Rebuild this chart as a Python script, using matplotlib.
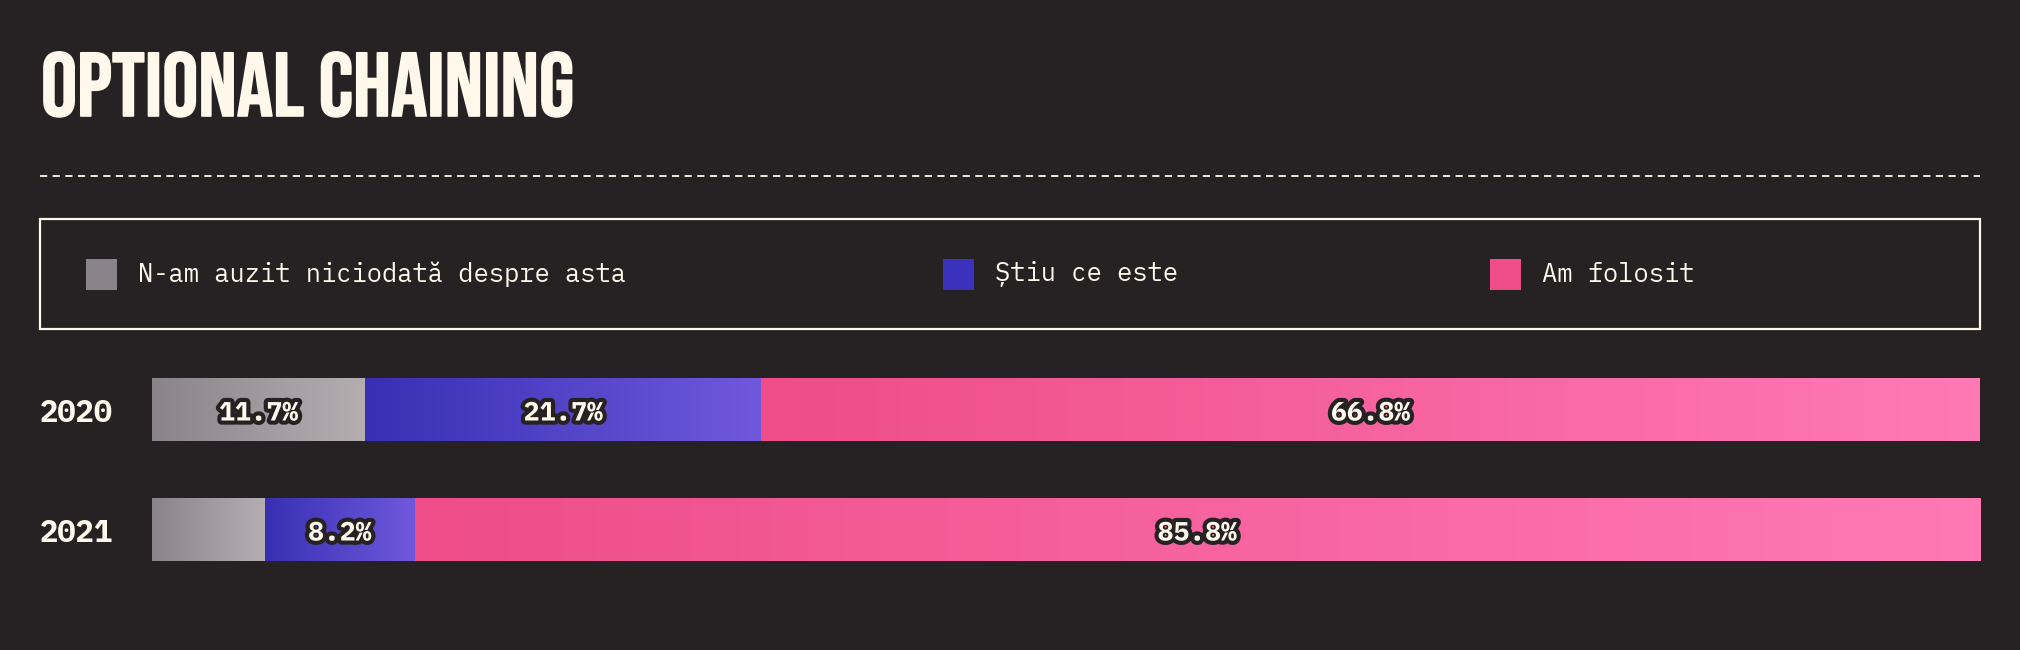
import numpy as np
import matplotlib.pyplot as plt
import matplotlib as mpl
from matplotlib.patches import Rectangle
from matplotlib.lines import Line2D
import matplotlib.patheffects as pe
from matplotlib.colors import LinearSegmentedColormap
from matplotlib.transforms import blended_transform_factory, ScaledTranslation
import logging

logging.getLogger('matplotlib.font_manager').setLevel(logging.ERROR)

# data
title = 'OPTIONAL CHAINING'
years = ['2020', '2021']
categories = ['N-am auzit niciodată despre asta', 'Știu ce este', 'Am folosit']
never_heard = [11.7, 6.2]
know_it = [21.7, 8.2]
used_it = [66.8, 85.8]

BG = '#262224'
CREAM = '#fff8eb'
swatch = ['#8a8389', '#3a32bc', '#ef4d89']
grad = [('#8a8389', '#b5aeb1'), ('#3730b4', '#7058dc'), ('#ee4d89', '#ff79b5')]

TITLE_FONT = ['Bebas Neue', 'League Gothic', 'Oswald', 'Fira Sans Extra Condensed', 'DejaVu Sans']
MONO = ['IBM Plex Mono', 'DejaVu Sans Mono']

W, H = 2020, 650
fig = plt.figure(figsize=(W / 100, H / 100), dpi=100)
fig.patch.set_facecolor(BG)

def fx(px):
    return px / W

def fy(py):
    return 1 - py / H

# title (thin stroke in the same colour to make it heavier)
fig.text(fx(41), fy(116), title, color=CREAM, fontsize=65,
         family=TITLE_FONT, va='baseline', ha='left',
         path_effects=[pe.withStroke(linewidth=1.2, foreground=CREAM)])

# dashed separator
fig.add_artist(Line2D([fx(40), fx(1980)], [fy(176), fy(176)], transform=fig.transFigure,
                      color=CREAM, lw=1.3, linestyle=(0, (4, 3))))

# legend box
fig.add_artist(Rectangle((fx(40), fy(329)), fx(1940), 110 / H, transform=fig.transFigure,
                         facecolor='none', edgecolor=CREAM, lw=1.6))
sq_x = [86, 943, 1490]
for x0, lab, c in zip(sq_x, categories, swatch):
    fig.add_artist(Rectangle((fx(x0), fy(290)), fx(31), 31 / H, transform=fig.transFigure,
                             facecolor=c, edgecolor='none'))
    fig.text(fx(x0 + 52), fy(274), lab, color=CREAM, fontsize=18.4,
             family=MONO, va='center', ha='left')

# bars
ax = fig.add_axes([fx(152), fy(590), fx(1828), 240 / H])
ax.set_facecolor(BG)
ax.axis('off')

# nudge labels a few pixels down, as in the original
down = ScaledTranslation(0, -3 / 100, fig.dpi_scale_trans)

series = [never_heard, know_it, used_it]
bar_h = 0.525
stroke = [pe.withStroke(linewidth=6, foreground=BG)]
for i, yr in enumerate(years):
    left = 0
    for j in range(3):
        v = series[j][i]
        cmap = LinearSegmentedColormap.from_list('g%d' % j, grad[j])
        ax.imshow(np.linspace(0, 1, 256).reshape(1, -1), cmap=cmap, aspect='auto',
                  extent=[left, left + v, i + bar_h / 2, i - bar_h / 2],
                  interpolation='bilinear')
        if v >= 8:
            ax.text(left + v / 2, i, '%.1f%%' % v, color=CREAM, fontsize=19,
                    fontweight='bold', family=MONO, transform=ax.transData + down,
                    ha='center', va='center', path_effects=stroke)
        left += v

total = never_heard[0] + know_it[0] + used_it[0]
ax.set_xlim(0, total)
ax.set_ylim(1.5, -0.5)

trans = blended_transform_factory(fig.transFigure, ax.transData) + down
for i, yr in enumerate(years):
    ax.text(fx(40), i, yr, transform=trans, color=CREAM, fontsize=22, fontweight='bold',
            family=MONO, ha='left', va='center')

fig.savefig('out.png', dpi=100, facecolor=BG)
